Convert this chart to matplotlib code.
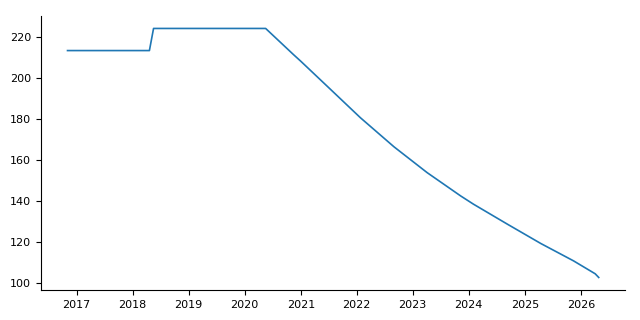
import matplotlib
matplotlib.use("Agg")
import matplotlib.pyplot as plt
import matplotlib.dates as mdates
import pandas as pd

# values
dates = pd.to_datetime([
    "2016-11-02", "2018-04-20", "2018-05-17", "2020-05-17", "2020-11-15",
    "2021-01-01", "2021-06-25", "2022-01-25", "2022-09-01", "2023-04-05",
    "2023-11-10", "2024-02-01", "2024-09-10", "2025-04-15", "2025-11-15",
    "2026-04-05", "2026-04-28",
])
values = [
    213.6, 213.6, 224.4, 224.4, 211.6,
    208.4, 196.0, 180.8, 166.6, 154.0,
    142.6, 138.6, 128.8, 119.4, 110.9,
    104.6, 102.8,
]

fig, ax = plt.subplots(figsize=(6.4, 3.2), dpi=100)
fig.subplots_adjust(left=0.064, right=0.977, top=0.95, bottom=0.094)

ax.plot(dates, values, color="#1f77b4", linewidth=1.2)

ax.xaxis.set_major_locator(mdates.YearLocator())
ax.xaxis.set_major_formatter(mdates.DateFormatter("%Y"))
ax.set_yticks([100, 120, 140, 160, 180, 200, 220])
ax.tick_params(labelsize=8)

ax.spines["top"].set_visible(False)
ax.spines["right"].set_visible(False)

plt.savefig("out.png", dpi=100)
